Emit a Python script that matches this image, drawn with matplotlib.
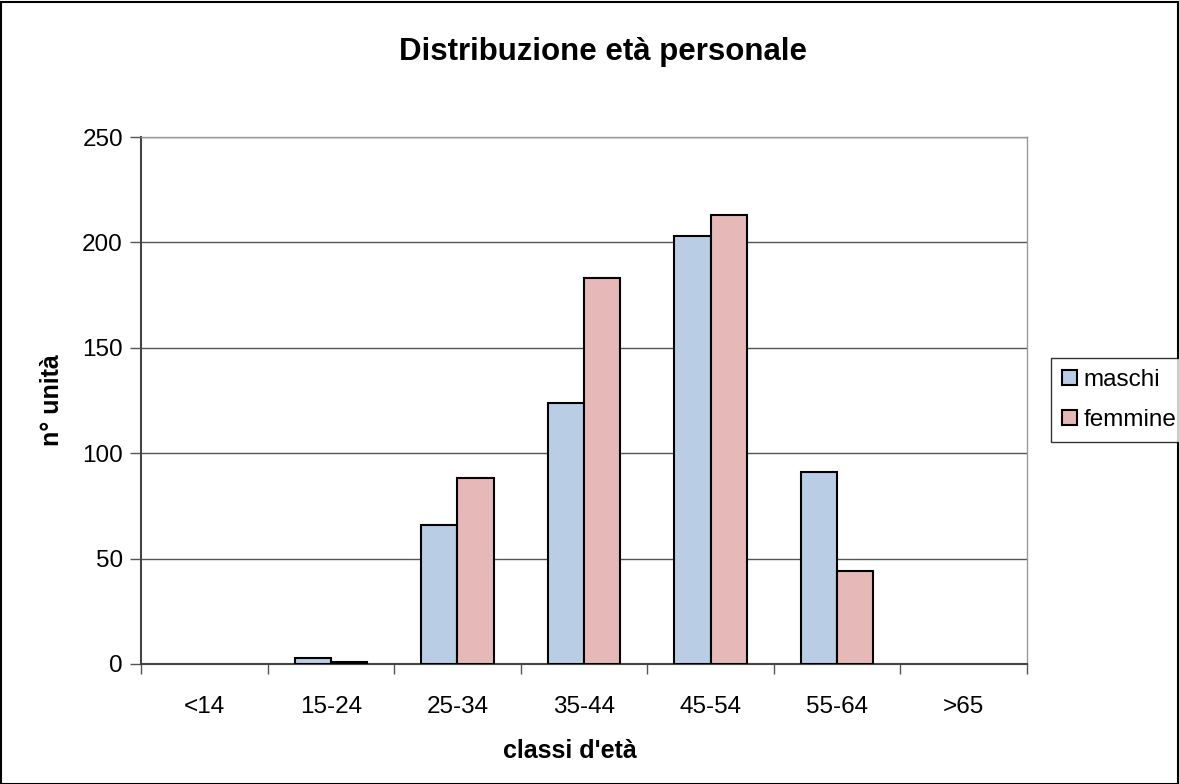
import matplotlib
matplotlib.use("Agg")
import matplotlib.pyplot as plt
from matplotlib.patches import Rectangle
import numpy as np

plt.rcParams['font.family'] = ['Liberation Sans', 'DejaVu Sans']

categories = ["<14", "15-24", "25-34", "35-44", "45-54", "55-64", ">65"]
maschi = [0, 3, 66, 124, 203, 91, 0]
femmine = [0, 1, 88, 183, 213, 44, 0]
series_names = ["maschi", "femmine"]
y_ticks = [0, 50, 100, 150, 200, 250]

W, H = 1179, 784
fig = plt.figure(figsize=(W / 100, H / 100), dpi=100)
fig.patch.set_facecolor("white")

# plot area in pixel coordinates
left, right, top, bottom = 141, 1027, 137, 664
ax = fig.add_axes([left / W, 1 - bottom / H, (right - left) / W, (bottom - top) / H])

n = len(categories)
x = np.arange(n)
bw = 1 / 3.5
c_m = "#B9CDE5"
c_f = "#E6B9B8"


def edge_widths(vals):
    # empty classes get no outline
    return [1.5 if v > 0 else 0 for v in vals]


ax.bar(x - bw / 2, maschi, width=bw, color=c_m, edgecolor="black",
       linewidth=edge_widths(maschi), label=series_names[0], zorder=3)
ax.bar(x + bw / 2, femmine, width=bw, color=c_f, edgecolor="black",
       linewidth=edge_widths(femmine), label=series_names[1], zorder=3)

fs = 17.5
ax.set_xlim(-0.5, n - 0.5)
ax.set_ylim(0, 250)
ax.set_yticks(y_ticks)
ax.set_yticklabels([str(v) for v in y_ticks], fontsize=fs)
ax.yaxis.grid(True, color="#555555", linewidth=1.0, zorder=0)

# category labels centred, tick marks at category boundaries
ax.set_xticks(x)
ax.set_xticklabels(categories, fontsize=fs)
ax.tick_params(axis="x", length=0, pad=23)
ax.set_xticks(np.arange(-0.5, n, 1.0), minor=True)
ax.tick_params(axis="x", which="minor", length=7, width=1, color="#555555", direction="out")
ax.tick_params(axis="y", length=8, width=1, color="#555555", direction="out", pad=5)

for side in ["top", "right"]:
    ax.spines[side].set_color("#999999")
    ax.spines[side].set_linewidth(1.0)
ax.spines["left"].set_color("#444444")
ax.spines["left"].set_linewidth(1.5)
ax.spines["bottom"].set_color("#444444")
ax.spines["bottom"].set_linewidth(1.5)

fig.text(570 / W, 1 - 751 / H, "classi d'età", fontsize=18, fontweight="bold",
         ha="center", va="center")
fig.text(52 / W, 1 - 400 / H, "n° unità", fontsize=18, fontweight="bold",
         ha="center", va="center", rotation=90)

fig.text(603 / W, 1 - 52 / H, "Distribuzione età personale", fontsize=22.5,
         fontweight="bold", ha="center", va="center")

leg = fig.legend(loc="upper left", bbox_to_anchor=(1051 / W, 1 - 358 / H),
                 fontsize=fs, frameon=True, fancybox=False, edgecolor="black",
                 handlelength=0.6, handleheight=0.6, handletextpad=0.3,
                 borderpad=0.45, labelspacing=0.75, borderaxespad=0)
leg.get_frame().set_linewidth(1.0)
for h in leg.legend_handles:
    h.set_linewidth(1.5)

# outer chart border
fig.add_artist(Rectangle((0.5 / W, 0.5 / H), (W - 2) / W, (H - 2) / H,
                         transform=fig.transFigure, fill=False,
                         edgecolor="black", linewidth=1.5))

fig.savefig("out.png", dpi=100)
